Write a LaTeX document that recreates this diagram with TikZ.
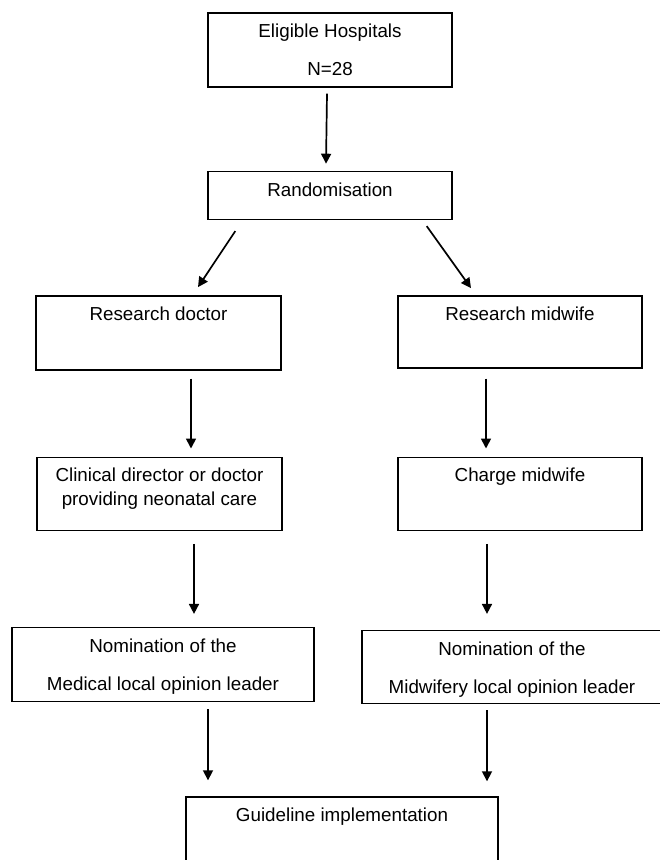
\documentclass[tikz,border=0pt]{standalone}
\usepackage{fontspec}
\setmainfont{Liberation Sans}
\usetikzlibrary{positioning, arrows.meta}

% text sits at the top of a fixed-size box
\newcommand{\boxtext}[3]{\parbox[c][#2][t]{#1}{\centering\vspace*{8.8pt}\strut#3\par}}

\begin{document}
\begin{tikzpicture}[
    x=1pt, y=-1pt,
    box/.style={rectangle, draw, line width=1.4pt, inner sep=0pt, font=\fontsize{18.8}{22.6}\selectfont},
    arrow/.style={-{Triangle[width=10pt,length=10pt]}, line width=1.7pt}
]
\useasboundingbox (0,0) rectangle (660,860);

% Boxes
\node[box] (hosp) at (330,50) {\boxtext{244pt}{74pt}{Eligible Hospitals\\[15.4pt]N=28}};
\node[box, below=83pt of hosp] (rand) {\boxtext{244pt}{48pt}{Randomisation}};
\node[box, below=75pt of rand, xshift=-171.5pt] (resdoc) {\boxtext{245pt}{74pt}{Research doctor}};
\node[box, below=75pt of rand, xshift=190pt] (resmid) {\boxtext{244pt}{72pt}{Research midwife}};
\node[box, below=86pt of resdoc, xshift=1pt] (clin) {\boxtext{245pt}{73pt}{Clinical director or doctor\\[1.4pt]providing neonatal care}};
\node[box, below=88pt of resmid] (charge) {\boxtext{244pt}{73pt}{Charge midwife}};
\node[box, below=96pt of clin, xshift=3.5pt] (nommed) {\boxtext{302pt}{74pt}{Nomination of the\\[15.4pt]Medical local opinion leader}};
\node[box, below=99pt of charge, xshift=-8pt] (nommid) {\boxtext{300pt}{73pt}{Nomination of the\\[15.4pt]Midwifery local opinion leader}};
\node[box, below=94pt of nommed, xshift=179pt] (guide) {\boxtext{312pt}{100pt}{Guideline implementation}};

% Arrows
\draw[arrow] ([xshift=-3pt, yshift=-6pt]hosp.south) -- ([xshift=-4pt, yshift=7pt]rand.north);
\draw[arrow] ([xshift=28pt, yshift=-11pt]rand.south west) -- ([xshift=39.5pt, yshift=8pt]resdoc.north);
\draw[arrow] ([xshift=-26pt, yshift=-6pt]rand.south east) -- ([xshift=-49pt, yshift=7pt]resmid.north);
\draw[arrow] ([xshift=32.5pt, yshift=-8pt]resdoc.south) -- ([xshift=31.5pt, yshift=8pt]clin.north);
\draw[arrow] ([xshift=-34pt, yshift=-10pt]resmid.south) -- ([xshift=-34pt, yshift=8pt]charge.north);
\draw[arrow] ([xshift=34.5pt, yshift=-13pt]clin.south) -- ([xshift=31pt, yshift=13pt]nommed.north);
\draw[arrow] ([xshift=-33pt, yshift=-13pt]charge.south) -- ([xshift=-25pt, yshift=16pt]nommid.north);
\draw[arrow] ([xshift=45pt, yshift=-7pt]nommed.south) -- ([xshift=-134pt, yshift=16pt]guide.north);
\draw[arrow] ([xshift=-25pt, yshift=-6pt]nommid.south) -- ([xshift=145pt, yshift=15pt]guide.north);
\end{tikzpicture}
\end{document}
